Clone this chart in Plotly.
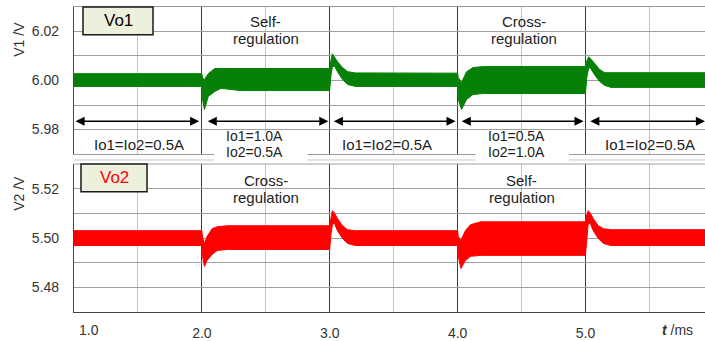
import plotly.graph_objects as go

# ---- measured envelopes of the two output voltages (ripple band upper/lower) ----
t_v1 = [1.00, 1.999, 2.005, 2.02, 2.05, 2.10, 2.15, 2.30, 2.999, 3.01, 3.02, 3.035,
        3.06, 3.10, 3.14, 3.20, 3.999, 4.005, 4.03, 4.07, 4.12, 4.20, 4.999, 5.01,
        5.025, 5.04, 5.07, 5.11, 5.15, 5.20, 5.95]
v1_upper = [6.0028, 6.0028, 6.0012, 6.0004, 6.0028, 6.0049, 6.0049, 6.0049, 6.0049,
            6.0085, 6.0109, 6.0097, 6.0077, 6.0053, 6.0036, 6.0031, 6.0030, 6.0012,
            5.9992, 6.0036, 6.0053, 6.0057, 6.0057, 6.0081, 6.0097, 6.0089, 6.0069,
            6.0045, 6.0032, 6.0032, 6.0032]
v1_lower = [5.9976, 5.9976, 5.9923, 5.9882, 5.9935, 5.9955, 5.9968, 5.9959, 5.9959,
            6.0024, 6.0053, 6.0061, 6.0036, 6.0004, 5.9984, 5.9976, 5.9976, 5.9923,
            5.9882, 5.9923, 5.9943, 5.9947, 5.9947, 6.0012, 6.0053, 6.0049, 6.0024,
            5.9996, 5.9980, 5.9972, 5.9972]

t_v2 = [1.00, 1.999, 2.005, 2.02, 2.04, 2.08, 2.12, 2.20, 2.999, 3.01, 3.02, 3.035,
        3.06, 3.10, 3.14, 3.20, 3.999, 4.005, 4.025, 4.06, 4.10, 4.18, 4.999, 5.01,
        5.02, 5.035, 5.06, 5.10, 5.14, 5.20, 5.95]
v2_upper = [5.5030, 5.5030, 5.5006, 5.4978, 5.5006, 5.5038, 5.5046, 5.5050, 5.5050,
            5.5087, 5.5111, 5.5103, 5.5079, 5.5050, 5.5034, 5.5030, 5.5030, 5.5006,
            5.4990, 5.5030, 5.5054, 5.5066, 5.5066, 5.5095, 5.5111, 5.5103, 5.5079,
            5.5050, 5.5038, 5.5034, 5.5034]
v2_lower = [5.4970, 5.4970, 5.4926, 5.4885, 5.4909, 5.4934, 5.4950, 5.4954, 5.4954,
            5.5018, 5.5054, 5.5062, 5.5030, 5.4998, 5.4978, 5.4970, 5.4970, 5.4926,
            5.4877, 5.4909, 5.4926, 5.4930, 5.4930, 5.4998, 5.5054, 5.5062, 5.5030,
            5.4998, 5.4978, 5.4970, 5.4970]

# load intervals (arrows) and their labels
interval_start = [1.0, 2.034, 3.02, 4.02, 5.025]
interval_end = [1.979, 2.989, 3.984, 4.985, 5.934]
load_label_x = [1.508, 2.415, 3.447, 4.46, 5.50]
load_labels = [["Io1=Io2=0.5A"], ["Io1=1.0A", "Io2=0.5A"], ["Io1=Io2=0.5A"],
               ["Io1=0.5A", "Io2=1.0A"], ["Io1=Io2=0.5A"]]

v1_ticks = [5.97, 5.98, 5.99, 6.00, 6.01, 6.02, 6.03]
v1_ticktext = ["", "5.98", "", "6.00", "", "6.02", ""]
v2_ticks = [5.47, 5.48, 5.49, 5.50, 5.51, 5.52, 5.53]
v2_ticktext = ["", "5.48", "", "5.50", "", "5.52", ""]
t_ticks = [1, 2, 3, 4, 5]
t_ticktext = ["", "2.0", "3.0", "4.0", "5.0"]

W, H = 705, 341
FONT = "Liberation Sans, Arial, sans-serif"
GREEN = "#078007"
RED = "#ff0000"
TXT = "#222222"


def px(x):
    return x / W


def py(y):
    return 1 - y / H


def label(xref, x, y, text, size, color=TXT, **kw):
    d = dict(xref=xref, yref="paper", x=x, y=y, text=text, showarrow=False,
             xanchor="center", yanchor="middle",
             font=dict(family=FONT, size=size, color=color))
    d.update(kw)
    return d


fig = go.Figure()

fig.add_trace(go.Scatter(
    x=t_v1 + t_v1[::-1], y=v1_upper + v1_lower[::-1], fill="toself",
    fillcolor=GREEN, line=dict(color=GREEN, width=1), mode="lines",
    xaxis="x", yaxis="y", hoverinfo="skip"))
fig.add_trace(go.Scatter(
    x=t_v2 + t_v2[::-1], y=v2_upper + v2_lower[::-1], fill="toself",
    fillcolor=RED, line=dict(color=RED, width=1), mode="lines",
    xaxis="x2", yaxis="y2", hoverinfo="skip"))

x_range = [1.0, 5.934]
common_x = dict(range=x_range, tickvals=t_ticks, showgrid=True,
                gridcolor="#3c3c3c", gridwidth=1.2, zeroline=False,
                minor=dict(dtick=0.5, tick0=1.0, showgrid=True, gridcolor="#c4c4c4",
                           gridwidth=1))
common_y = dict(showgrid=True, gridcolor="#a0a0a0", gridwidth=1, zeroline=False,
                showline=True, linecolor="#444444", linewidth=1.2,
                tickfont=dict(family=FONT, size=14, color="#333333"),
                ticks="", ticklabelstandoff=11)

fig.update_layout(
    width=W, height=H, margin=dict(l=0, r=0, t=0, b=0),
    paper_bgcolor="white", plot_bgcolor="white", showlegend=False,
    xaxis=dict(domain=[px(74), 1.0], anchor="y", showticklabels=False,
               showline=True, mirror=True, linecolor="#9a9a9a", **common_x),
    yaxis=dict(domain=[py(155), py(7)], anchor="x", range=[5.97, 6.03],
               tickvals=v1_ticks, ticktext=v1_ticktext, **common_y),
    xaxis2=dict(domain=[px(74), 1.0], anchor="y2", ticktext=t_ticktext,
                showline=True, mirror=False, linecolor="#444444", linewidth=1.2,
                tickfont=dict(family=FONT, size=14, color="#333333"),
                ticks="", ticklabelstandoff=8, **common_x),
    yaxis2=dict(domain=[py(314), py(165)], anchor="x2", range=[5.47, 5.53],
                tickvals=v2_ticks, ticktext=v2_ticktext, **common_y),
)

shapes = []
annotations = []

# thin separator below the upper panel
shapes.append(dict(type="line", xref="paper", yref="paper", x0=px(74), x1=1.0,
                   y0=py(161), y1=py(161), line=dict(color="#dadada", width=1.5)))
# top edge of the lower panel
shapes.append(dict(type="line", xref="paper", yref="paper", x0=px(74), x1=1.0,
                   y0=py(165), y1=py(165), line=dict(color="#a0a0a0", width=1)))

# white backing behind the two-line load labels
for xc in (load_label_x[1], load_label_x[3]):
    shapes.append(dict(type="rect", xref="x", yref="paper", layer="above",
                       x0=xc - 0.32, x1=xc + 0.41, y0=py(163), y1=py(133),
                       fillcolor="white", line=dict(width=0)))

# channel badges
for (x0, x1, y0, y1, name, col) in [(83, 153, 7, 35, "Vo1", "black"),
                                     (81, 147, 165, 193, "Vo2", RED)]:
    shapes.append(dict(type="rect", xref="paper", yref="paper", layer="above",
                       x0=px(x0), x1=px(x1), y0=py(y1), y1=py(y0),
                       fillcolor="#eef0de", line=dict(color="#1a1a1a", width=1.5)))
    annotations.append(label("paper", px((x0 + x1) / 2), py((y0 + y1) / 2), name, 17, col))

# load-step arrows
arrow_y = 5.9834
for s, e in zip(interval_start, interval_end):
    annotations.append(dict(xref="x", yref="y", axref="x", ayref="y", x=e, y=arrow_y,
                            ax=s, ay=arrow_y, text="", showarrow=True,
                            arrowhead=2, startarrowhead=2, arrowside="end+start",
                            arrowsize=1.3, startarrowsize=1.3, arrowwidth=1.4,
                            arrowcolor="black", standoff=0, startstandoff=0))

# load labels
for xc, lines in zip(load_label_x, load_labels):
    if len(lines) == 1:
        annotations.append(label("x", xc, py(145), lines[0], 15))
    else:
        for yy, txt in zip((137, 153), lines):
            annotations.append(label("x", xc, py(yy), txt, 14))

# regulation mode captions
captions = [(2.5, 22, 39, "Self-"), (4.52, 22, 39, "Cross-"),
            (2.5, 182, 199, "Cross-"), (4.5, 182, 199, "Self-")]
for xc, y1, y2, first in captions:
    annotations.append(label("x", xc, py(y1), first, 15))
    annotations.append(label("x", xc, py(y2), "regulation", 15))

# axis titles
annotations.append(label("paper", px(19), py(40), "V1 /V", 14, "#333333", textangle=-90))
annotations.append(label("paper", px(19), py(195), "V2 /V", 14, "#333333", textangle=-90))
annotations.append(label("paper", px(677), py(332), "<b><i>t</i></b> /ms", 14, "#333333"))
annotations.append(label("x2", 1.0, py(332), "1.0", 14, "#333333",
                         xanchor="left", xshift=3))

fig.update_layout(shapes=shapes, annotations=annotations)
fig.write_html("out.html")
